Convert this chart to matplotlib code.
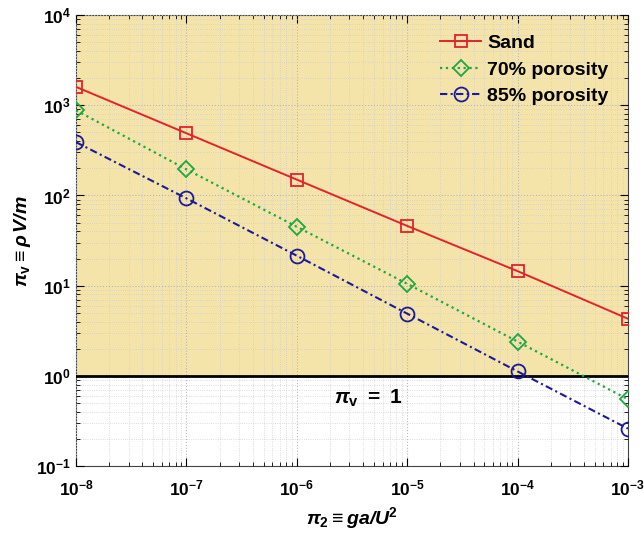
import matplotlib
matplotlib.use("Agg")
import matplotlib.pyplot as plt
from matplotlib.ticker import LogLocator, FuncFormatter, NullFormatter
import numpy as np

plt.rcParams['font.family'] = ['Liberation Sans', 'DejaVu Sans']
plt.rcParams['font.weight'] = 'bold'
plt.rcParams['mathtext.fontset'] = 'custom'
plt.rcParams['mathtext.rm'] = 'Liberation Sans'
plt.rcParams['mathtext.it'] = 'Liberation Sans:italic'
plt.rcParams['mathtext.bf'] = 'Liberation Sans:bold'
plt.rcParams['mathtext.bfit'] = 'Liberation Sans:bold:italic'

pi2 = [1e-8, 1e-7, 1e-6, 1e-5, 1e-4, 1e-3]
sand = [1600, 490, 150, 46, 14.5, 4.3]
por70 = [880, 195, 45, 10.5, 2.4, 0.55]
por85 = [390, 93, 21.5, 4.9, 1.12, 0.26]
labels = ['Sand', '70% porosity', '85% porosity']

fig = plt.figure(figsize=(6.44, 5.40), dpi=100)
ax = fig.add_axes([0.118, 0.137, 0.857, 0.835])

ax.set_xscale('log')
ax.set_yscale('log')
ax.set_xlim(1e-8, 1e-3)
ax.set_ylim(1e-1, 1e4)

ax.axhspan(1, 1e4, facecolor='#f5e4aa', zorder=0)
ax.axhline(1, color='black', lw=2.0, zorder=3)

ax.set_axisbelow(False)
ax.grid(True, which='major', ls=':', color='#b8b8b8', lw=0.8, zorder=1)
ax.grid(True, which='minor', ls=':', color='#d0d0d0', lw=0.6, zorder=1)
for gl in ax.get_xgridlines() + ax.get_ygridlines():
    gl.set_zorder(1)

ax.plot(pi2, sand, color='#e3222b', ls='-', lw=1.4, marker='s', ms=9,
        mfc='none', mec='#e3222b', mew=1.3, label=labels[0], zorder=4)
ax.plot(pi2, por70, color='#1fa640', ls=':', lw=1.6, marker='D', ms=8,
        mfc='none', mec='#1fa640', mew=1.3, label=labels[1], zorder=4)
ax.plot(pi2, por85, color='#1c1a96', ls='-.', dashes=(3.5, 1.6, 1.0, 1.6), lw=1.5,
        marker='o', ms=10, mfc='none', mec='#1c1a96', mew=1.3, label=labels[2], zorder=4)

ax.xaxis.set_major_locator(LogLocator(base=10, numticks=10))
ax.yaxis.set_major_locator(LogLocator(base=10, numticks=10))
ax.yaxis.set_minor_locator(LogLocator(base=10, subs=np.arange(2, 10), numticks=20))
ax.xaxis.set_minor_locator(LogLocator(base=10, subs=np.arange(2, 10), numticks=20))
fmt = FuncFormatter(lambda v, p: r'$\mathbf{10^{%d}}$' % int(round(np.log10(v))))
ax.xaxis.set_major_formatter(fmt)
ax.yaxis.set_major_formatter(fmt)
ax.xaxis.set_minor_formatter(NullFormatter())
ax.yaxis.set_minor_formatter(NullFormatter())
ax.tick_params(which='both', direction='in', top=True, right=True, labelsize=12.5)
ax.tick_params(which='major', length=6, width=0.8)
ax.tick_params(which='minor', length=3, width=0.6)
ax.tick_params(axis='x', pad=9)

for s in ax.spines.values():
    s.set_color('#444444')
    s.set_linewidth(0.8)

ax.set_xlabel(r'$\pi_{\mathbf{2}} \equiv \mathbfit{ga/U}^{\mathbf{2}}$', fontsize=14, labelpad=5)
ax.set_ylabel(r'$\pi_{\mathbf{v}} \equiv \rho\, \mathbfit{V/m}$', fontsize=14, labelpad=2)

ax.text(10**-5.35, 0.56, r'$\pi_{\mathbf{v}}\ \mathbf{=\ 1}$', fontsize=15, ha='center', va='center')

leg = ax.legend(loc='upper right', frameon=False, fontsize=14, handlelength=2.1,
                handletextpad=0.3, labelspacing=0.45, borderaxespad=0.6)
leg.set_zorder(5)

fig.savefig('out.png', dpi=100)
